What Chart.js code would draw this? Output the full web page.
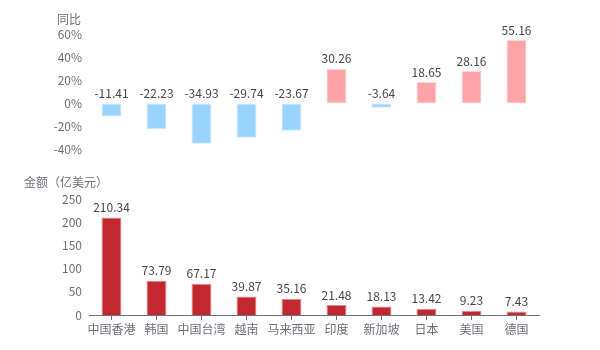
<!DOCTYPE html>
<html>
<head>
<meta charset="utf-8">
<script src="https://cdn.jsdelivr.net/npm/chart.js@4"></script>
<style>
  html, body { margin: 0; padding: 0; background: #fff; }
  #wrap { position: relative; width: 600px; height: 350px; }
  #c1 { position: absolute; left: 0; top: 0; }
  #c2 { position: absolute; left: 0; top: 165px; }
</style>
</head>
<body>
<div id="wrap">
  <canvas id="c1" width="600" height="165"></canvas>
  <canvas id="c2" width="600" height="185"></canvas>
</div>
<script>
const categories = ['中国香港','韩国','中国台湾','越南','马来西亚','印度','新加坡','日本','美国','德国'];
const yoyValues = [-11.41, -22.23, -34.93, -29.74, -23.67, 30.26, -3.64, 18.65, 28.16, 55.16];
const amountValues = [210.34, 73.79, 67.17, 39.87, 35.16, 21.48, 18.13, 13.42, 9.23, 7.43];
const yoyTicks = { min: -40, max: 60, step: 20 };
const amountTicks = { min: 0, max: 250, step: 50 };
const topTitle = '同比';
const bottomTitle = '金额（亿美元）';

const FONT = '"Noto Sans CJK SC", "Noto Sans", sans-serif';
const AXIS_COLOR = '#6e7079';
const LABEL_COLOR = '#464646';

const valueLabels = {
  id: 'valueLabels',
  afterDatasetsDraw(chart) {
    const ctx = chart.ctx;
    ctx.save();
    ctx.font = '12px ' + FONT;
    ctx.fillStyle = LABEL_COLOR;
    ctx.textAlign = 'center';
    ctx.textBaseline = 'bottom';
    chart.data.datasets.forEach((ds, di) => {
      chart.getDatasetMeta(di).data.forEach((el, i) => {
        const top = Math.min(el.y, el.base);
        ctx.fillText(ds.data[i].toFixed(2), el.x, top - 4);
      });
    });
    ctx.restore();
  }
};

function titlePlugin(text, cx, cy) {
  return {
    id: 'axisName',
    afterDraw(chart) {
      const ctx = chart.ctx;
      ctx.save();
      ctx.font = '12px ' + FONT;
      ctx.fillStyle = AXIS_COLOR;
      ctx.textAlign = 'center';
      ctx.textBaseline = 'middle';
      ctx.fillText(text, cx, cy);
      ctx.restore();
    }
  };
}

Chart.defaults.font.family = FONT;
Chart.defaults.font.size = 12;

new Chart(document.getElementById('c1'), {
  type: 'bar',
  data: {
    labels: categories,
    datasets: [{
      data: yoyValues,
      backgroundColor: yoyValues.map(v => v < 0 ? '#99d3ff' : '#ffa4a6'),
      borderColor: yoyValues.map(v => v < 0 ? '#cbe9ff' : '#ffd2d3'),
      borderWidth: 1,
      borderSkipped: false,
      categoryPercentage: 1,
      barPercentage: 0.444
    }]
  },
  options: {
    responsive: false,
    animation: false,
    layout: { padding: { left: 0, right: 61, top: 34.5, bottom: 15.5 } },
    plugins: { legend: { display: false }, tooltip: { enabled: false } },
    scales: {
      x: { display: false },
      y: {
        min: yoyTicks.min, max: yoyTicks.max,
        afterFit(s) { s.width = 89; },
        grid: { display: false, drawTicks: false },
        border: { display: false },
        ticks: { stepSize: yoyTicks.step, color: AXIS_COLOR, padding: 7, callback: v => v + '%' }
      }
    }
  },
  plugins: [valueLabels, titlePlugin(topTitle, 69, 19)]
});

new Chart(document.getElementById('c2'), {
  type: 'bar',
  data: {
    labels: categories,
    datasets: [{
      data: amountValues,
      backgroundColor: '#c4282f',
      borderColor: '#e58a8e',
      borderWidth: 1,
      borderSkipped: 'bottom',
      categoryPercentage: 1,
      barPercentage: 0.444
    }]
  },
  options: {
    responsive: false,
    animation: false,
    layout: { padding: { left: 0, right: 61, top: 34, bottom: 0 } },
    plugins: { legend: { display: false }, tooltip: { enabled: false } },
    scales: {
      x: {
        afterFit(s) { s.height = 35; },
        grid: { display: true, drawOnChartArea: false, offset: false, tickLength: 5, color: AXIS_COLOR },
        border: { display: true, color: AXIS_COLOR, width: 1 },
        ticks: { color: AXIS_COLOR, padding: 2, maxRotation: 0, autoSkip: false }
      },
      y: {
        min: amountTicks.min, max: amountTicks.max,
        afterFit(s) { s.width = 89; },
        grid: { display: false, drawTicks: false },
        border: { display: false },
        ticks: { stepSize: amountTicks.step, color: AXIS_COLOR, padding: 7 }
      }
    }
  },
  plugins: [valueLabels, titlePlugin(bottomTitle, 66, 17)]
});
</script>
</body>
</html>
